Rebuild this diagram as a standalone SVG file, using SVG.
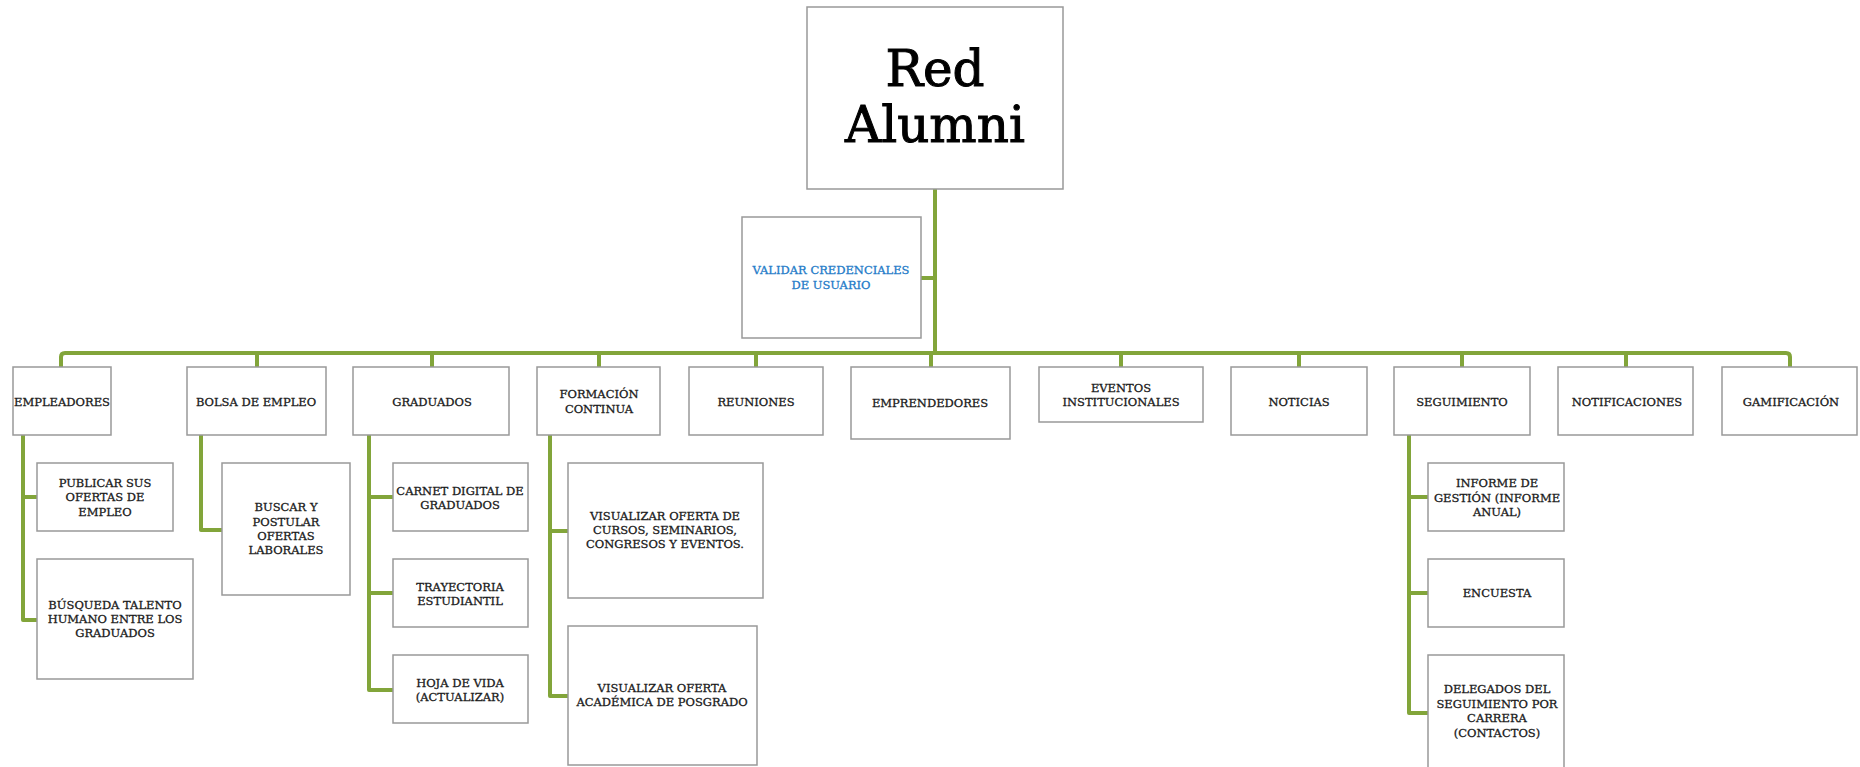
<svg xmlns="http://www.w3.org/2000/svg" width="1860" height="767" viewBox="0 0 1860 767">
<style>
.box{fill:#fff;stroke:#999;stroke-width:1.5}
.t{font-family:"DejaVu Serif","Liberation Serif",serif;font-size:11.5px;fill:#1a1a1a;stroke:#1a1a1a;stroke-width:0.3;text-anchor:middle}
.big{font-family:"DejaVu Serif","Liberation Serif",serif;font-size:50px;fill:#000;stroke:#000;stroke-width:1;text-anchor:middle}
.blue{fill:#1f7bc8;stroke:#1f7bc8}
.c{fill:none;stroke:#82a53a;stroke-width:4;stroke-linejoin:round}
</style>
<rect width="1860" height="767" fill="#fff"/>
<g id="connectors">
<path class="c" d="M935 189V353"/>
<path class="c" d="M921 278H935"/>
<path class="c" d="M61 367V357Q61 353 65 353H1786Q1790 353 1790 357V367"/>
<path class="c" d="M257 353V367M432 353V367M599 353V367M756 353V367M931 353V367M1121 353V367M1299 353V367M1462 353V367M1626 353V367"/>
<path class="c" d="M23 435V620H37M23 497H37"/>
<path class="c" d="M201 435V530H222"/>
<path class="c" d="M369 435V690H393M369 497H393M369 593H393"/>
<path class="c" d="M550 435V696H568M550 531H568"/>
<path class="c" d="M1409 435V713H1428M1409 497H1428M1409 593H1428"/>
</g>
<g id="root"><rect class="box" x="807" y="7" width="256" height="182"/>
<text class="big" x="935" y="86">Red</text><text class="big" x="935" y="142">Alumni</text></g>
<g id="validar"><rect class="box" x="742" y="217" width="179" height="121"/>
<text class="t blue" x="831" y="274">VALIDAR CREDENCIALES</text><text class="t blue" x="831" y="289">DE USUARIO</text></g>
<g id="empleadores"><rect class="box" x="13" y="367" width="98" height="68"/><text class="t" x="62" y="406">EMPLEADORES</text></g>
<g id="publicar"><rect class="box" x="37" y="463" width="136" height="68"/>
<text class="t" x="105" y="487">PUBLICAR SUS</text><text class="t" x="105" y="501">OFERTAS DE</text><text class="t" x="105" y="516">EMPLEO</text></g>
<g id="busqueda"><rect class="box" x="37" y="559" width="156" height="120"/>
<text class="t" x="115" y="609">BÚSQUEDA TALENTO</text><text class="t" x="115" y="623">HUMANO ENTRE LOS</text><text class="t" x="115" y="637">GRADUADOS</text></g>
<g id="bolsa"><rect class="box" x="187" y="367" width="139" height="68"/><text class="t" x="256" y="406">BOLSA DE EMPLEO</text></g>
<g id="buscar"><rect class="box" x="222" y="463" width="128" height="132"/>
<text class="t" x="286" y="511">BUSCAR Y</text><text class="t" x="286" y="526">POSTULAR</text><text class="t" x="286" y="540">OFERTAS</text><text class="t" x="286" y="554">LABORALES</text></g>
<g id="graduados"><rect class="box" x="353" y="367" width="156" height="68"/><text class="t" x="432" y="406">GRADUADOS</text></g>
<g id="carnet"><rect class="box" x="393" y="463" width="135" height="68"/>
<text class="t" x="460" y="495">CARNET DIGITAL DE</text><text class="t" x="460" y="509">GRADUADOS</text></g>
<g id="trayectoria"><rect class="box" x="393" y="559" width="135" height="68"/>
<text class="t" x="460" y="591">TRAYECTORIA</text><text class="t" x="460" y="605">ESTUDIANTIL</text></g>
<g id="hoja"><rect class="box" x="393" y="655" width="135" height="68"/>
<text class="t" x="460" y="687">HOJA DE VIDA</text><text class="t" x="460" y="701">(ACTUALIZAR)</text></g>
<g id="formacion"><rect class="box" x="537" y="367" width="123" height="68"/>
<text class="t" x="599" y="398">FORMACIÓN</text><text class="t" x="599" y="413">CONTINUA</text></g>
<g id="visualizar1"><rect class="box" x="568" y="463" width="195" height="135"/>
<text class="t" x="665" y="520">VISUALIZAR OFERTA DE</text><text class="t" x="665" y="534">CURSOS, SEMINARIOS,</text><text class="t" x="665" y="548">CONGRESOS Y EVENTOS.</text></g>
<g id="visualizar2"><rect class="box" x="568" y="626" width="189" height="139"/>
<text class="t" x="662" y="692">VISUALIZAR OFERTA</text><text class="t" x="662" y="706">ACADÉMICA DE POSGRADO</text></g>
<g id="reuniones"><rect class="box" x="689" y="367" width="134" height="68"/><text class="t" x="756" y="406">REUNIONES</text></g>
<g id="emprendedores"><rect class="box" x="851" y="367" width="159" height="72"/><text class="t" x="930" y="407">EMPRENDEDORES</text></g>
<g id="eventos"><rect class="box" x="1039" y="367" width="164" height="55"/>
<text class="t" x="1121" y="392">EVENTOS</text><text class="t" x="1121" y="406">INSTITUCIONALES</text></g>
<g id="noticias"><rect class="box" x="1231" y="367" width="136" height="68"/><text class="t" x="1299" y="406">NOTICIAS</text></g>
<g id="seguimiento"><rect class="box" x="1394" y="367" width="136" height="68"/><text class="t" x="1462" y="406">SEGUIMIENTO</text></g>
<g id="informe"><rect class="box" x="1428" y="463" width="136" height="68"/>
<text class="t" x="1497" y="487">INFORME DE</text><text class="t" x="1497" y="502">GESTIÓN (INFORME</text><text class="t" x="1497" y="516">ANUAL)</text></g>
<g id="encuesta"><rect class="box" x="1428" y="559" width="136" height="68"/><text class="t" x="1497" y="597">ENCUESTA</text></g>
<g id="delegados"><rect class="box" x="1428" y="655" width="136" height="130"/>
<text class="t" x="1497" y="693">DELEGADOS DEL</text><text class="t" x="1497" y="708">SEGUIMIENTO POR</text><text class="t" x="1497" y="722">CARRERA</text><text class="t" x="1497" y="737">(CONTACTOS)</text></g>
<g id="notificaciones"><rect class="box" x="1558" y="367" width="135" height="68"/><text class="t" x="1627" y="406">NOTIFICACIONES</text></g>
<g id="gamificacion"><rect class="box" x="1722" y="367" width="135" height="68"/><text class="t" x="1791" y="406">GAMIFICACIÓN</text></g>
</svg>
